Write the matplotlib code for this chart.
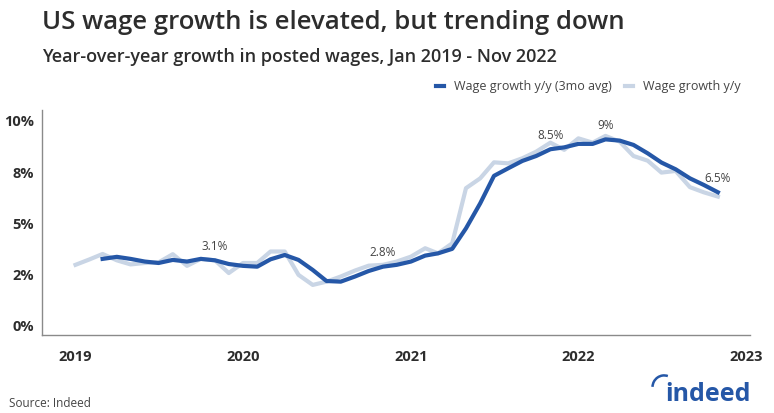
import numpy as np
import pandas as pd
import matplotlib.pyplot as plt
import matplotlib.dates as mdates
from matplotlib.patches import Arc

plt.rcParams['font.family'] = ['Open Sans', 'DejaVu Sans']

# monthly posted wage growth, Jan 2019 - Nov 2022
months = pd.date_range('2019-01-01', '2022-11-01', freq='MS')
wage_yy = [2.98, 3.25, 3.51, 3.20, 3.00, 3.07, 3.10, 3.50, 2.93, 3.27, 3.20, 2.58,
           3.07, 3.07, 3.63, 3.63, 2.49, 2.00, 2.16, 2.41, 2.70, 2.94, 2.98, 3.14,
           3.38, 3.79, 3.54, 4.03, 6.72, 7.20, 7.98, 7.93, 8.18, 8.50, 8.94, 8.59,
           9.15, 8.94, 9.27, 8.99, 8.29, 8.06, 7.48, 7.56, 6.77, 6.52, 6.31]
wage_3mo = [np.nan, np.nan, 3.27, 3.37, 3.27, 3.14, 3.07, 3.22, 3.14, 3.27, 3.20, 3.02,
            2.93, 2.89, 3.25, 3.46, 3.22, 2.73, 2.19, 2.16, 2.41, 2.68, 2.89, 2.98,
            3.14, 3.43, 3.54, 3.76, 4.76, 5.98, 7.32, 7.69, 8.05, 8.29, 8.62, 8.71,
            8.88, 8.88, 9.10, 9.04, 8.83, 8.42, 7.97, 7.64, 7.20, 6.88, 6.52]
note_idx = [10, 22, 34, 38, 46]
note_text = ['3.1%', '2.8%', '8.5%', '9%', '6.5%']
yticks = [0, 2.5, 5, 7.5, 10]
ytick_labels = ['0%', '2%', '5%', '8%', '10%']
xtick_years = [2019, 2020, 2021, 2022, 2023]

DARK = '#2557a7'
LIGHT = '#c9d5e5'
TXT = '#2d2d2d'

fig = plt.figure(figsize=(7.74, 4.13), dpi=100)
ax = fig.add_axes([0.0543, 0.189, 0.9147, 0.545])

ax.plot(months, wage_yy, color=LIGHT, lw=3, label='Wage growth y/y', zorder=2)
ax.plot(months, wage_3mo, color=DARK, lw=3, label='Wage growth y/y (3mo avg)', zorder=3)

for i, t in zip(note_idx, note_text):
    ax.annotate(t, (months[i], wage_3mo[i]), xytext=(0, 10), textcoords='offset points',
                ha='center', va='center', fontsize=8.5, color='#444444')

ax.set_xlim(pd.Timestamp('2018-10-20'), pd.Timestamp('2023-01-10'))
ax.set_ylim(-0.44, 10.54)
ax.set_yticks(yticks)
ax.set_yticklabels(ytick_labels)
ax.set_xticks([pd.Timestamp(f'{y}-01-01') for y in xtick_years])
ax.xaxis.set_major_formatter(mdates.DateFormatter('%Y'))
ax.tick_params(length=0, labelsize=10.5, colors=TXT, pad=6)
ax.tick_params(axis='x', pad=11)
for lab in ax.get_xticklabels() + ax.get_yticklabels():
    lab.set_fontweight('bold')

for s in ['top', 'right']:
    ax.spines[s].set_visible(False)
for s in ['left', 'bottom']:
    ax.spines[s].set_color('#8a8a8a')
    ax.spines[s].set_linewidth(1)

h, l = ax.get_legend_handles_labels()
fig.legend(h[::-1], l[::-1], loc='center right', bbox_to_anchor=(0.972, 0.79), ncol=2,
           frameon=False, fontsize=9, handlelength=0.7, handletextpad=0.8,
           columnspacing=1.0, labelcolor='#444444')

fig.text(0.054, 0.945, 'US wage growth is elevated, but trending down', fontsize=18.5,
         fontweight='semibold', color=TXT, va='center')
fig.text(0.054, 0.862, 'Year-over-year growth in posted wages, Jan 2019 - Nov 2022',
         fontsize=13, fontweight='semibold', color=TXT, va='center')
fig.text(0.012, 0.022, 'Source: Indeed', fontsize=8.5, color='#444444', va='center')

# indeed wordmark
fig.text(0.970, 0.045, 'indeed', fontsize=18, fontweight='bold', color=DARK,
         ha='right', va='center')
fig.patches.append(Arc((0.858, 0.062), 0.030, 0.058, theta1=80, theta2=175,
                       transform=fig.transFigure, color=DARK, lw=1.8))

fig.savefig('out.png', dpi=100)
